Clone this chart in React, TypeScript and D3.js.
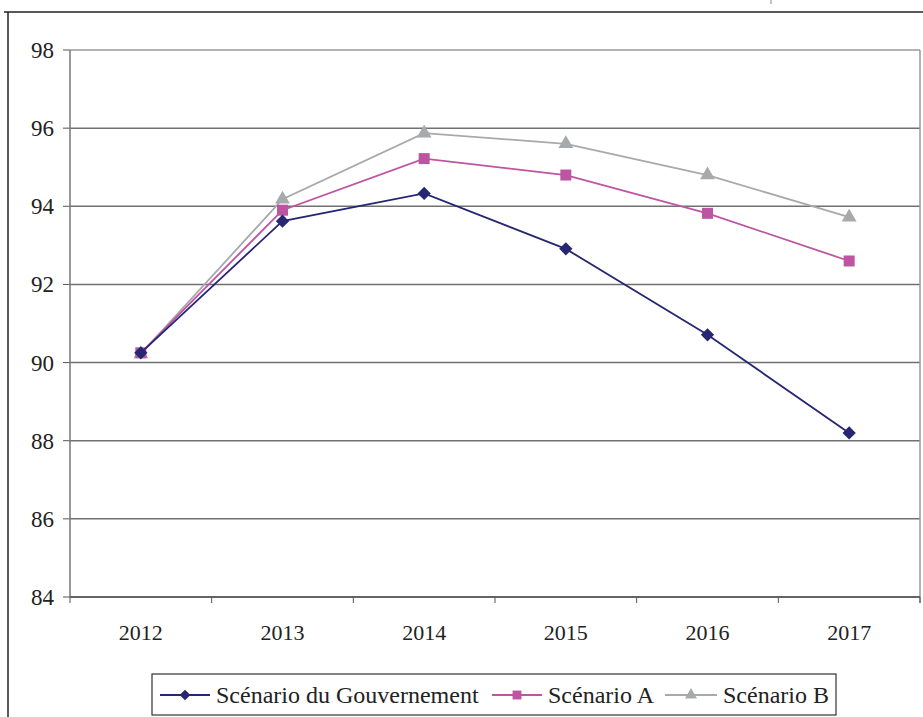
import React from 'react'
import * as d3 from 'd3'

const years = ['2012', '2013', '2014', '2015', '2016', '2017']
const gouvernement = [90.25, 93.62, 94.33, 92.91, 90.71, 88.2]
const scenarioA = [90.25, 93.9, 95.22, 94.8, 93.82, 92.6]
const scenarioB = [90.22, 94.18, 95.87, 95.6, 94.8, 93.72]
const yTicks = [84, 86, 88, 90, 92, 94, 96, 98]

const series = [
  { name: 'Scénario du Gouvernement', values: gouvernement, color: '#262673', shape: 'diamond' },
  { name: 'Scénario A', values: scenarioA, color: '#bd55a3', shape: 'square' },
  { name: 'Scénario B', values: scenarioB, color: '#a7a9ab', shape: 'triangle' },
]

const W = 923
const H = 717
const left = 70
const right = 920
const top = 50
const bottom = 597
const font = 'Liberation Serif'

function marker(shape: string, color: string, x: number, y: number, key: any, k = 1) {
  let p: string | null = null
  let rot = 0
  if (shape === 'diamond') { p = d3.symbol().type(d3.symbolSquare).size(88 * k)(); rot = 45 }
  if (shape === 'square') p = d3.symbol().type(d3.symbolSquare).size(121 * k)()
  if (shape === 'triangle') p = d3.symbol().type(d3.symbolTriangle).size(95 * k)()
  return <path key={key} d={p || ''} transform={`translate(${x},${y}) rotate(${rot})`} fill={color} />
}

export default function App() {
  const x = d3.scaleBand().domain(years).range([left, right])
  const y = d3.scaleLinear().domain([84, 98]).range([bottom, top])
  const cx = (d: string) => (x(d) as number) + x.bandwidth() / 2

  const line = d3.line<number>()
    .x((d, i) => cx(years[i]))
    .y(d => y(d))

  const bounds = years.map(d => x(d) as number).concat([right])

  // legend: line start, line end, text start
  const legendItems = [
    { x1: 160, x2: 210, tx: 216 },
    { x1: 492, x2: 542, tx: 548 },
    { x1: 665, x2: 717, tx: 723 },
  ]
  const ly = 695

  return (
    <svg width={W} height={H} style={{ position: 'absolute', left: 0, top: 0, background: '#fff' }}>
      {/* outer frame */}
      <line x1={8} x2={8} y1={12} y2={H} stroke="#222" strokeWidth={1.5} />
      <line x1={4} x2={W} y1={12} y2={12} stroke="#222" strokeWidth={1.5} />
      <line x1={771} x2={771} y1={0} y2={4} stroke="#888" strokeWidth={1} />

      {/* grid */}
      {yTicks.map(t => (
        <g key={t}>
          <line x1={left} x2={right} y1={y(t)} y2={y(t)} stroke={t === 98 ? '#999' : '#707070'} strokeWidth={1.5} />
          <line x1={left - 7} x2={left} y1={y(t)} y2={y(t)} stroke="#555" strokeWidth={1} />
          <text x={54} y={y(t)} dy="0.35em" textAnchor="end" style={{ fontFamily: font }} fontSize={23} fill="#222">{t}</text>
        </g>
      ))}
      <line x1={left} x2={left} y1={top} y2={bottom} stroke="#777" strokeWidth={1.5} />
      <line x1={right} x2={right} y1={top} y2={bottom + 6} stroke="#999" strokeWidth={1.5} />
      <line x1={left} x2={right} y1={bottom} y2={bottom} stroke="#555" strokeWidth={1.5} />
      {bounds.map((b, i) => (
        <line key={i} x1={b} x2={b} y1={bottom} y2={bottom + 6} stroke="#555" strokeWidth={1} />
      ))}
      {years.map(d => (
        <text key={d} x={cx(d)} y={640} textAnchor="middle" style={{ fontFamily: font }} fontSize={22} fill="#222">{d}</text>
      ))}

      {/* lines, drawn back to front */}
      {series.slice().reverse().map(s => (
        <g key={s.name}>
          <path d={line(s.values) || ''} fill="none" stroke={s.color} strokeWidth={1.8} />
          {s.values.map((v, i) => marker(s.shape, s.color, cx(years[i]), y(v), i))}
        </g>
      ))}

      {/* legend */}
      <rect x={152} y={674} width={684} height={41} fill="#fff" stroke="#333" strokeWidth={1.2} />
      {series.map((s, i) => (
        <g key={s.name}>
          <line x1={legendItems[i].x1} x2={legendItems[i].x2} y1={ly} y2={ly} stroke={s.color} strokeWidth={2} />
          {marker(s.shape, s.color, (legendItems[i].x1 + legendItems[i].x2) / 2, ly, 'm', 0.65)}
          <text x={legendItems[i].tx} y={703} style={{ fontFamily: font }} fontSize={24} fill="#222">{s.name}</text>
        </g>
      ))}
    </svg>
  )
}
